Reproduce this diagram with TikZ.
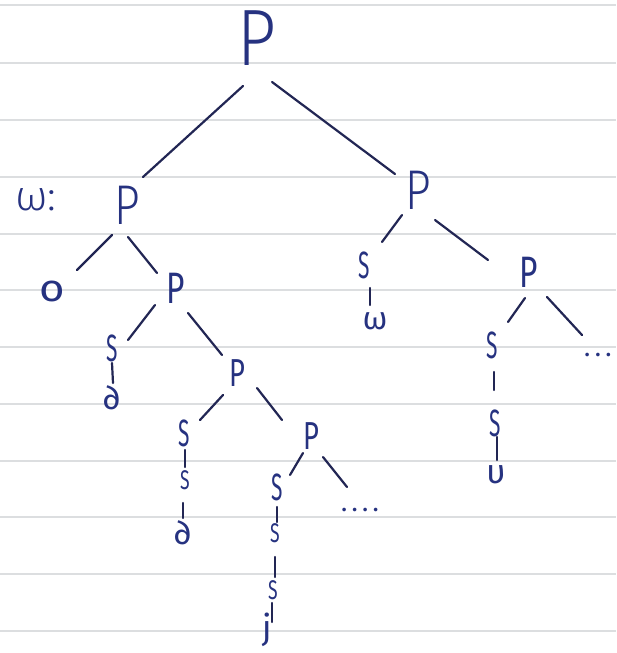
\documentclass[tikz,border=0pt]{standalone}
\usepackage{fontspec}
\usetikzlibrary{calc}
\newfontfamily\handreg{Fira Sans}
\IfFontExistsTF{Fira Sans Light}{\newfontfamily\hand{Fira Sans Light}}{\let\hand\handreg}
\definecolor{ink}{RGB}{34,38,84}
\definecolor{letter}{RGB}{38,50,128}
\definecolor{rule}{RGB}{220,222,224}
\tikzset{
  lbl/.style={inner sep=0pt, text=letter},
  rootP/.style={lbl, font=\hand\fontsize{80}{80}\selectfont, xscale=0.85, transform shape},
  bigP/.style={lbl, font=\hand\fontsize{56}{56}\selectfont, xscale=0.8, transform shape},
  midP/.style={lbl, font=\handreg\fontsize{44}{44}\selectfont, xscale=0.72, transform shape},
  smP/.style={lbl, font=\handreg\fontsize{39}{39}\selectfont, xscale=0.7, transform shape},
  bigS/.style={lbl, font=\handreg\fontsize{38}{38}\selectfont, xscale=0.55, transform shape},
  smS/.style={lbl, font=\handreg\fontsize{27}{27}\selectfont, xscale=0.65, transform shape},
  leaf/.style={lbl, font=\handreg\fontsize{34}{34}\selectfont},
  edge/.style={draw=ink, line width=2.2pt, line cap=round},
  paper/.style={draw=rule, line width=1.3pt}
}
\begin{document}
\begin{tikzpicture}[x=1pt, y=-1pt]
\fill[white] (0,0) rectangle (616,653);
\useasboundingbox (0,0) rectangle (616,653);
% ruled paper
\foreach \yy in {5,63,120,177,234,290,347,404,461,517,574,631}
  \draw[paper] (0,\yy) -- (616,\yy);
% nodes
\node[rootP] (root) at (257,38) {P};
\node[bigP] (lP) at (127,205) {P};
\node[bigP] (rP) at (418,190) {P};
\node[lbl, font=\hand\fontsize{42}{42}\selectfont] (wlab) at (36,200) {ω:};
\node[leaf, font=\handreg\fontsize{38}{38}\selectfont, xscale=1.15, transform shape] (o) at (52,291) {o};
\node[midP] (P2) at (176,288) {P};
\node[bigS] (S1) at (112,348) {S};
\node[leaf] (L1) at (112,398) {∂};
\node[smP] (P3) at (237,373) {P};
\node[bigS] (S2) at (184,433) {S};
\node[smS] (S3) at (185,480) {S};
\node[leaf] (L2) at (183,533) {∂};
\node[smP] (P4) at (311,436) {P};
\node[bigS] (S4) at (277,487) {S};
\node[smS] (S5) at (275,533) {S};
\node[smS] (S6) at (273,590) {S};
\node[leaf] (L3) at (267,630) {j};
\node[lbl, font=\handreg\fontsize{26}{26}\selectfont] (dots1) at (360,510) {.\,.\,.\,.};
\node[bigS] (rS1) at (364,265) {S};
\node[leaf, font=\handreg\fontsize{32}{32}\selectfont] (rw) at (375,321) {ω};
\node[midP] (rP2) at (529,272) {P};
\node[bigS] (rS2) at (492,345) {S};
\node[bigS] (rS3) at (495,423) {S};
\node[leaf, font=\handreg\fontsize{34}{34}\selectfont] (rU) at (496,475) {υ};
\node[lbl, font=\handreg\fontsize{26}{26}\selectfont, anchor=west] (rdots) at (584,355) {.\,.\,.};
% edges
\draw[edge] ($(root)+(-14,48)$) -- ($(lP)+(16,-28)$);
\draw[edge] ($(root)+(15,44)$) -- ($(rP)+(-23,-16)$);
\draw[edge] ($(lP)+(-15,30)$) -- ($(o)+(25,-21)$);
\draw[edge] ($(lP)+(1,32)$) -- ($(P2)+(-19,-15)$);
\draw[edge] ($(P2)+(-21,17)$) -- ($(S1)+(16,-8)$);
\draw[edge] ($(P2)+(12,25)$) -- ($(P3)+(-15,-18)$);
\draw[edge] ($(S1)+(0,15)$) -- ($(L1)+(1,-15)$);
\draw[edge] ($(P3)+(-14,22)$) -- ($(S2)+(16,-13)$);
\draw[edge] ($(P3)+(20,15)$) -- ($(P4)+(-29,-16)$);
\draw[edge] ($(S2)+(1,17)$) -- ($(S3)+(0,-13)$);
\draw[edge] ($(S3)+(-2,23)$) -- ($(L2)+(0,-15)$);
\draw[edge] ($(P4)+(-8,17)$) -- ($(S4)+(13,-12)$);
\draw[edge] ($(P4)+(12,21)$) -- ($(dots1)+(-13,-23)$);
\draw[edge] ($(S4)+(0,20)$) -- ($(S5)+(2,-11)$);
\draw[edge] ($(S5)+(0,24)$) -- ($(S6)+(2,-13)$);
\draw[edge] ($(S6)+(-1,13)$) -- ($(L3)+(5,-8)$);
\draw[edge] ($(rP)+(-16,25)$) -- ($(rS1)+(18,-23)$);
\draw[edge] ($(rP)+(17,30)$) -- ($(rP2)+(-41,-12)$);
\draw[edge] ($(rS1)+(6,23)$) -- ($(rw)+(-5,-16)$);
\draw[edge] ($(rP2)+(-4,26)$) -- ($(rS2)+(16,-23)$);
\draw[edge] ($(rP2)+(18,25)$) -- ($(rdots.west)+(-2,-20)$);
\draw[edge] ($(rS2)+(2,27)$) -- ($(rS3)+(-1,-33)$);
\draw[edge] ($(rS3)+(2,14)$) -- ($(rU)+(1,-15)$);
\end{tikzpicture}
\end{document}
